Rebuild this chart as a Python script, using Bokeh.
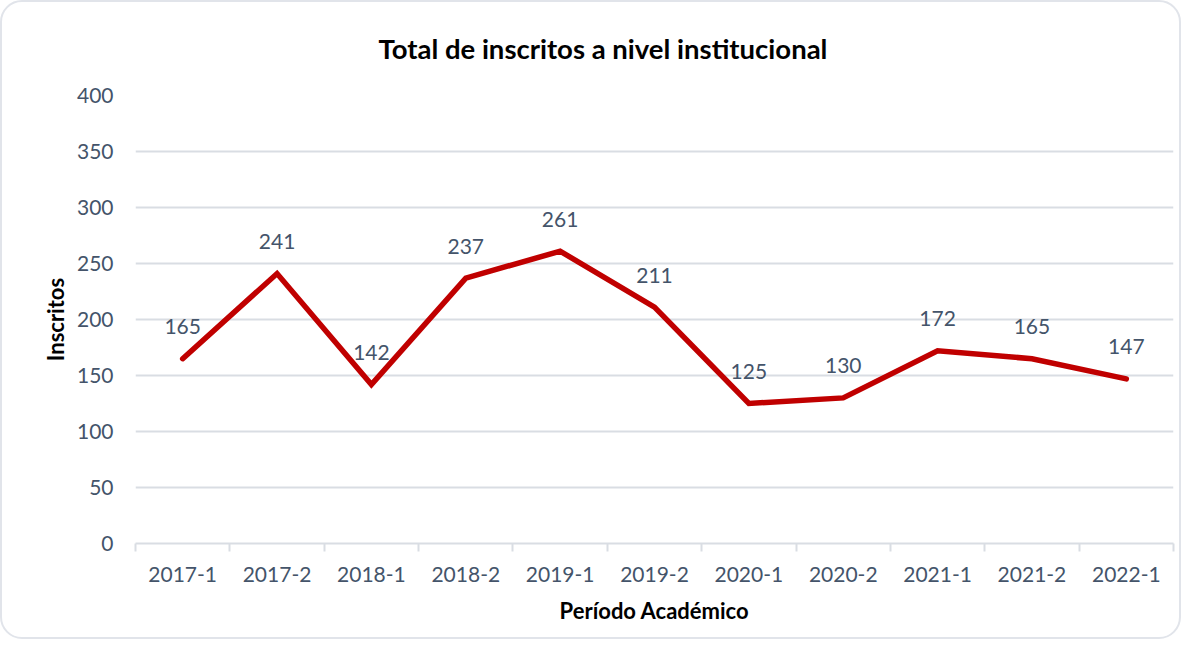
import numpy as np
from bokeh.plotting import figure
from bokeh.models import FixedTicker, Range1d, ColumnDataSource
from bokeh.core.properties import value
from bokeh.embed import file_html
from bokeh.resources import INLINE

periods = ["2017-1", "2017-2", "2018-1", "2018-2", "2019-1", "2019-2",
           "2020-1", "2020-2", "2021-1", "2021-2", "2022-1"]
inscritos = [165, 241, 142, 237, 261, 211, 125, 130, 172, 165, 147]
y_ticks = [0, 50, 100, 150, 200, 250, 300, 350, 400]

title_text = "Total de inscritos a nivel institucional"
x_label = "Período Académico"
y_label = "Inscritos"

FONT = "Lato"
TXT = "#44546a"
GRID = "#d9dde3"

n = len(periods)
xs = np.arange(n) + 0.5

p = figure(width=1181, height=639, output_backend="svg", toolbar_location=None,
           x_range=Range1d(0, n), y_range=Range1d(0, 400),
           min_border_left=133, min_border_right=10, min_border_top=93,
           min_border_bottom=98)
p.styles = {"border": "2px solid #e1e4ea", "border-radius": "22px", "box-sizing": "border-box"}

p.title.text = title_text
p.title.align = "left"
p.title.vertical_align = "top"
p.title.text_font = FONT
p.title.text_font_size = "27.5px"
p.title.text_font_style = "bold"
p.title.text_color = "#000000"
p.title.standoff = 58
p.title.offset = 243

p.outline_line_color = None
p.background_fill_color = None
p.border_fill_color = None

# x axis
p.xaxis.ticker = FixedTicker(ticks=list(xs), minor_ticks=list(np.arange(n + 1)))
p.xaxis.major_label_overrides = {float(x): lab for x, lab in zip(xs, periods)}
p.xaxis.major_tick_line_color = None
p.xaxis.minor_tick_in = 0
p.xaxis.minor_tick_out = 8
p.xaxis.minor_tick_line_color = GRID
p.xaxis.minor_tick_line_width = 2
p.xaxis.axis_line_color = GRID
p.xaxis.axis_line_width = 2
p.xaxis.major_label_text_font = FONT
p.xaxis.major_label_text_font_size = "21px"
p.xaxis.major_label_text_color = TXT
p.xaxis.major_label_standoff = 15
p.xaxis.axis_label = x_label
p.xaxis.axis_label_text_font = FONT
p.xaxis.axis_label_text_font_size = "22px"
p.xaxis.axis_label_text_font_style = "bold"
p.xaxis.axis_label_text_color = "#000000"
p.xaxis.axis_label_standoff = 12

# y axis
p.yaxis.ticker = FixedTicker(ticks=y_ticks)
p.yaxis.axis_line_color = None
p.yaxis.major_tick_line_color = None
p.yaxis.minor_tick_line_color = None
p.yaxis.major_label_text_font = FONT
p.yaxis.major_label_text_font_size = "21px"
p.yaxis.major_label_text_color = TXT
p.yaxis.major_label_standoff = 16
p.yaxis.axis_label = y_label
p.yaxis.axis_label_text_font = FONT
p.yaxis.axis_label_text_font_size = "22px"
p.yaxis.axis_label_text_font_style = "bold"
p.yaxis.axis_label_text_color = "#000000"
p.yaxis.axis_label_standoff = 5

p.xgrid.grid_line_color = None
p.ygrid.grid_line_color = GRID
p.ygrid.grid_line_width = 2

src = ColumnDataSource(dict(x=xs, y=inscritos, lab=[str(v) for v in inscritos]))
p.line("x", "y", source=src, line_color="#c00000", line_width=5.5,
       line_cap="round", line_join="miter")
p.text("x", "y", text="lab", source=src, text_font=value(FONT), text_font_size="21px",
       text_color=TXT, text_align="center", text_baseline="middle", y_offset=-32)

open("out.html", "w").write(file_html(p, INLINE))
